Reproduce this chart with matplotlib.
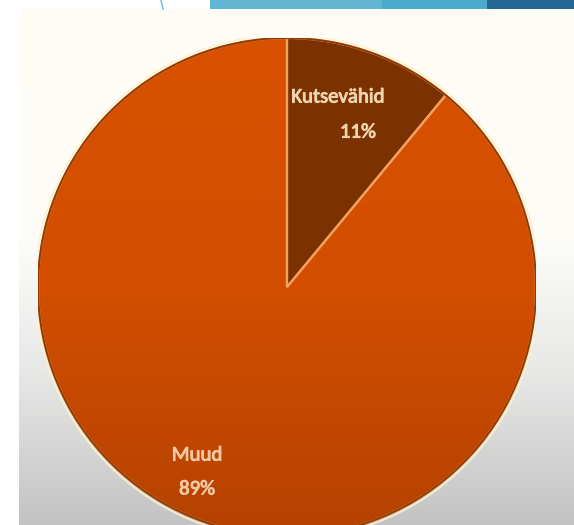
import matplotlib
matplotlib.use("Agg")
import matplotlib.pyplot as plt
import matplotlib.patheffects as pe
import numpy as np
from matplotlib.colors import LinearSegmentedColormap
from matplotlib.patches import Circle, Rectangle, Wedge

# osakaal ametite kaupa (%)
categories = ["Kutsevähid", "Muud"]
shares = [11, 89]
slice_colors = ["#7b3100", "#d65000"]

W, H = 574, 525
CX, CY, R = 287, 287, 249  # pirukas pikslites

fig = plt.figure(figsize=(W / 100, H / 100), dpi=100)
fig.patch.set_facecolor("white")

# --- taust: slaidi ala hallika üleminekuga ja sinine riba ülal ---
bg = fig.add_axes([0, 0, 1, 1])
bg.set_xlim(0, W)
bg.set_ylim(H, 0)
bg.axis("off")
grad = np.linspace(0, 1, 256)[:, None]
bg_cmap = LinearSegmentedColormap.from_list(
    "slide", [(0, "#fffdf5"), (0.45, "#fdfcf8"), (0.7, "#e8e8e7"), (1, "#c3c3c3")])
bg.imshow(grad, cmap=bg_cmap, extent=[19, W, H, 9], aspect="auto", zorder=0)
bg.add_patch(Rectangle((210, 0), 172, 9, color="#62b6d4", lw=0, zorder=1))
bg.add_patch(Rectangle((382, 0), 105, 9, color="#49aacd", lw=0, zorder=1))
bg.add_patch(Rectangle((487, 0), W - 487, 9, color="#236593", lw=0, zorder=1))
bg.plot([161, 163], [0, 9], color="#7cc4e4", lw=1.2, zorder=1)

# --- pirukas ---
ax = fig.add_axes([(CX - R) / W, (H - CY - R) / H, 2 * R / W, 2 * R / H])
ax.set_facecolor("none")
wedges, _ = ax.pie(shares, colors=slice_colors, startangle=90, counterclock=False,
                   radius=1, wedgeprops=dict(edgecolor="none", linewidth=0))
ax.set_xlim(-1, 1)
ax.set_ylim(-1, 1)
ax.set_aspect("equal")
ax.axis("off")

# suurema sektori tumenev üleminek alla
orange = LinearSegmentedColormap.from_list("orange", ["#d95100", "#d34e00", "#b44200"])
im = ax.imshow(np.linspace(0, 1, 256)[:, None], cmap=orange, extent=[-1, 1, -1, 1],
               origin="upper", aspect="auto", zorder=1.5)
im.set_clip_path(wedges[1])
for w in wedges:
    w.set_zorder(1)
    ax.add_patch(Wedge(w.center, w.r, w.theta1, w.theta2, facecolor="none",
                       edgecolor="#f2a060", lw=1.6, zorder=2))
ax.add_patch(Circle((0, 0), 1.0, fill=False, ec="#8f3a00", lw=1.4, zorder=3))
ax.add_patch(Circle((0, 0), 1.012, fill=False, ec="#fff0cc", lw=1.3, alpha=0.9, zorder=3))

font = ["Carlito", "Lato", "DejaVu Sans"]
txt = dict(ha="center", va="center", fontsize=15, family=font, zorder=4)
for x, y, s, c in [(0.205, 0.763, categories[0], "#f0d4ae"),
                   (0.285, 0.622, f"{shares[0]}%", "#f0d4ae"),
                   (-0.361, -0.675, categories[1], "#f3c8a2"),
                   (-0.361, -0.811, f"{shares[1]}%", "#f3c8a2")]:
    t = ax.text(x, y, s, color=c, **txt)
    t.set_path_effects([pe.withStroke(linewidth=0.7, foreground=c)])

fig.savefig("out.png", dpi=100)
